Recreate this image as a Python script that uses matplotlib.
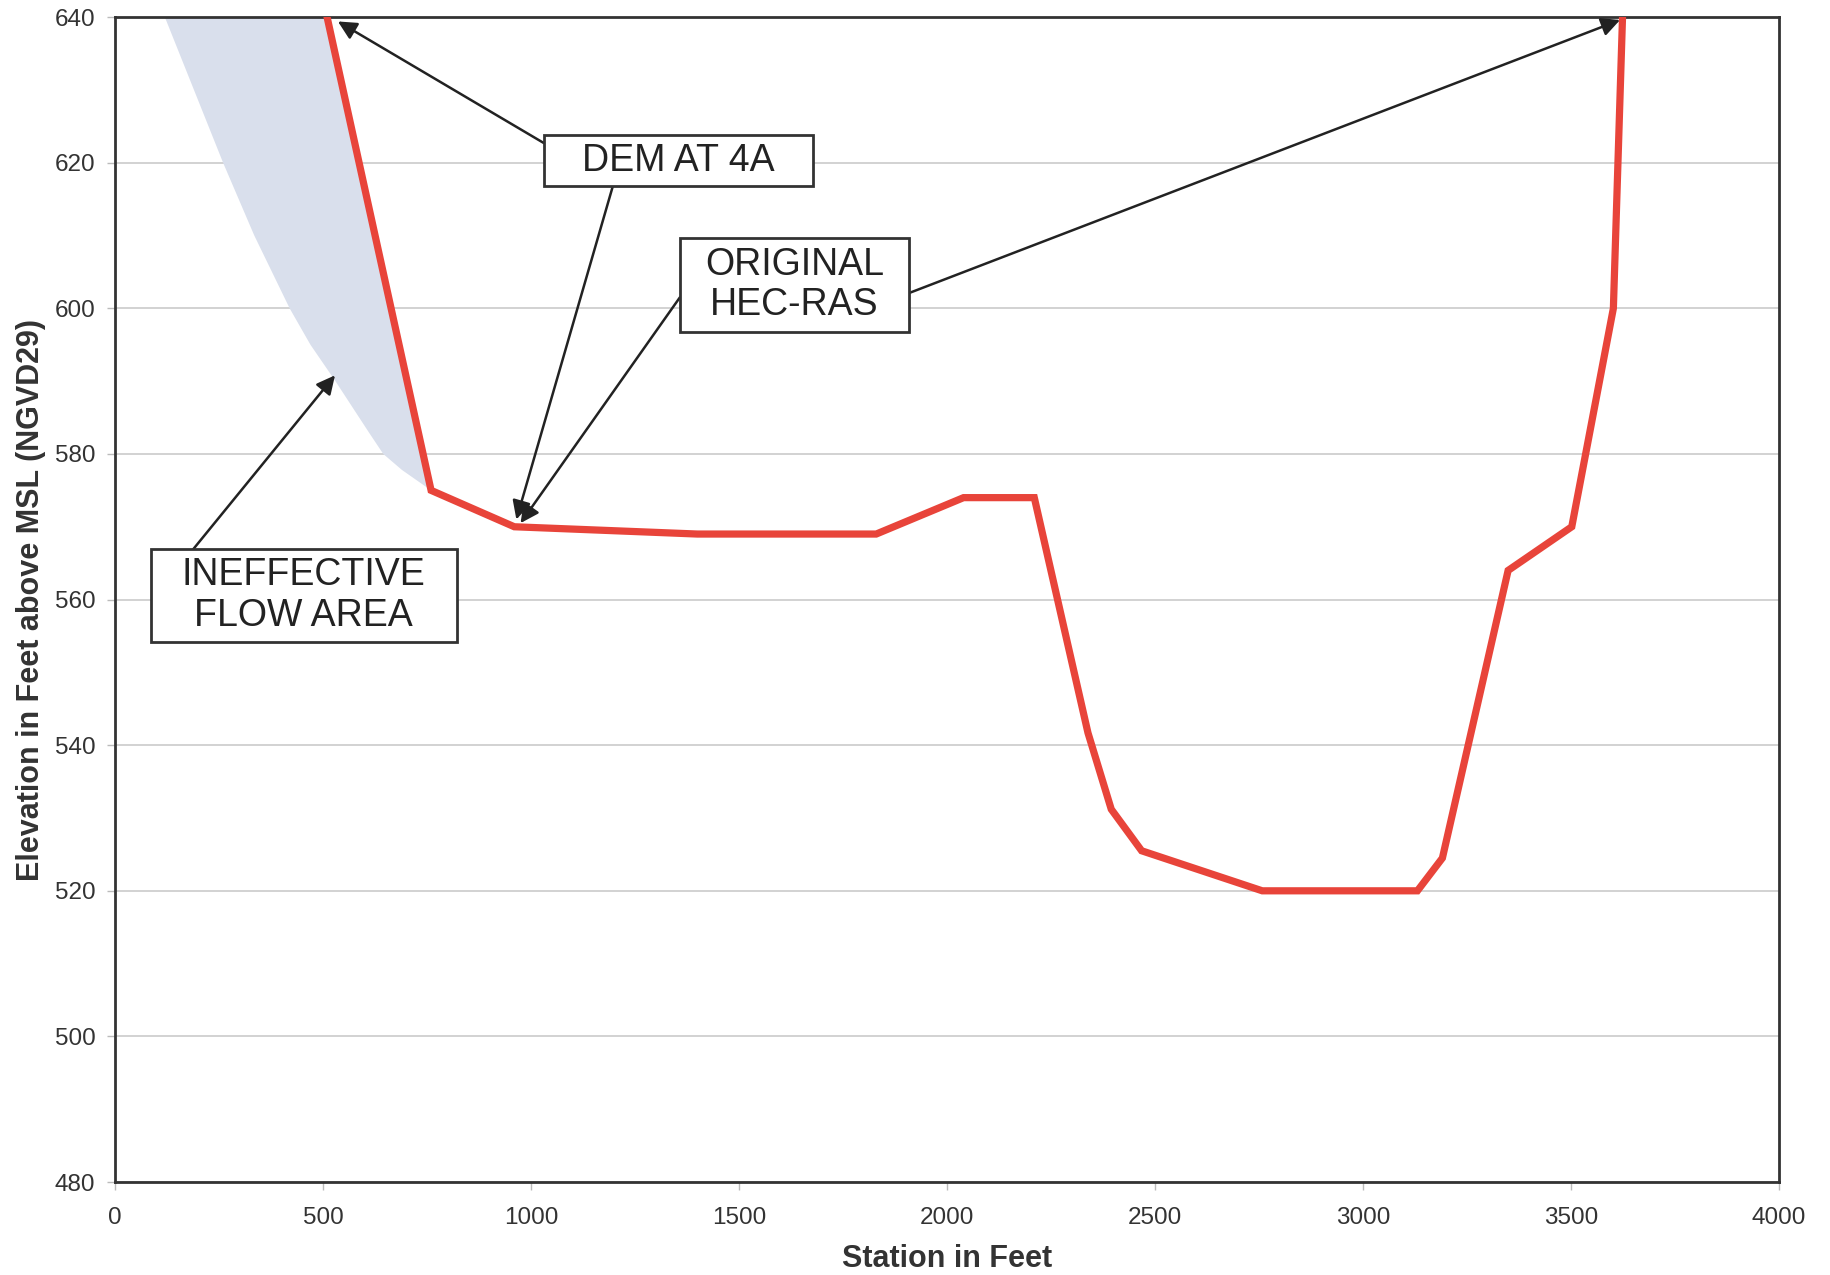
"""
Cross section at 4A: DEM vs original HEC-RAS ground line.
"""

import matplotlib
matplotlib.use("Agg")
import matplotlib.pyplot as plt
from matplotlib.patches import Rectangle

plt.rcParams['font.family'] = ['Liberation Sans', 'DejaVu Sans']

# ground profile (station ft, elevation ft NGVD29)
station = [510, 760, 960, 1400, 1830, 2040, 2210, 2339, 2395, 2468,
           2758, 3131, 3191, 3349, 3502, 3602, 3624]
elevation = [640, 575, 570, 569, 569, 574, 574, 541.7, 531.2, 525.5,
             520, 520, 524.5, 564, 570, 600, 640]

# left edge of the ineffective flow area
ineff_station = [120, 190, 260, 335, 420, 470, 530, 570, 610, 645, 690,
                 730, 760]
ineff_elev = [640, 630, 620, 610, 600, 595, 590, 586.5, 583, 580, 577.8,
              576.2, 575]

x_ticks = [0, 500, 1000, 1500, 2000, 2500, 3000, 3500, 4000]
y_ticks = [480, 500, 520, 540, 560, 580, 600, 620, 640]

# labels: (text, box x0, x1, y0, y1) in data units
labels = [
    ("DEM AT 4A", 1031, 1678, 616.8, 623.8),
    ("ORIGINAL\nHEC-RAS", 1358, 1909, 596.7, 609.6),
    ("INEFFECTIVE\nFLOW AREA", 86, 822, 554.2, 566.9),
]
# arrows: (start, tip)
arrows = [
    ((1031, 622.7), (536, 639.4)),
    ((1197, 616.8), (965, 571.0)),
    ((1358, 601.5), (975, 570.5)),
    ((1909, 602.1), (3618, 639.6)),
    ((188, 566.9), (529, 590.8)),
]


def main():
    fig = plt.figure(figsize=(18.3, 12.75), dpi=100)
    ax = fig.add_axes([0.0628, 0.0729, 0.9093, 0.9137])

    # shaded ineffective area bounded by the left edge and the ground line
    n_top = 2  # ground points above 575 ft
    poly_x = ineff_station + station[:n_top][::-1]
    poly_y = ineff_elev + elevation[:n_top][::-1]
    ax.fill(poly_x, poly_y, color='#d9dfec', lw=0, zorder=1)

    ax.plot(station, elevation, color='#e8443a', lw=5.2,
            solid_joinstyle='miter', zorder=3)

    ax.set_xlim(0, 4000)
    ax.set_ylim(480, 640)
    ax.set_xticks(x_ticks)
    ax.set_yticks(y_ticks)
    ax.yaxis.grid(True, color='#c6c6c6', lw=1.1)
    ax.set_axisbelow(True)
    for s in ax.spines.values():
        s.set_color('#333333')
        s.set_linewidth(2)
    ax.tick_params(axis='both', labelsize=17.5, colors='#333333',
                   length=6, width=1, pad=8)
    ax.tick_params(axis='x', pad=12, color='#bbbbbb')
    ax.tick_params(axis='y', color='#bbbbbb')

    ax.set_xlabel("Station in Feet", fontsize=22, fontweight='bold',
                  color='#333333', labelpad=11)
    ax.set_ylabel("Elevation in Feet above MSL (NGVD29)", fontsize=22,
                  fontweight='bold', color='#333333', labelpad=6)

    for (start, tip) in arrows:
        ax.annotate('', xy=tip, xytext=start,
                    arrowprops=dict(arrowstyle='-|>', color='#222222',
                                    lw=1.8, mutation_scale=28,
                                    shrinkA=0, shrinkB=0),
                    zorder=5)

    for text, x0, x1, y0, y1 in labels:
        ax.add_patch(Rectangle((x0, y0), x1 - x0, y1 - y0, facecolor='white',
                               edgecolor='#333333', lw=2, zorder=6))
        ax.text((x0 + x1) / 2, (y0 + y1) / 2, text, ha='center',
                va='center', fontsize=27, color='#222222', zorder=7,
                linespacing=1.15)

    fig.savefig('out.png', dpi=100)


if __name__ == '__main__':
    main()
